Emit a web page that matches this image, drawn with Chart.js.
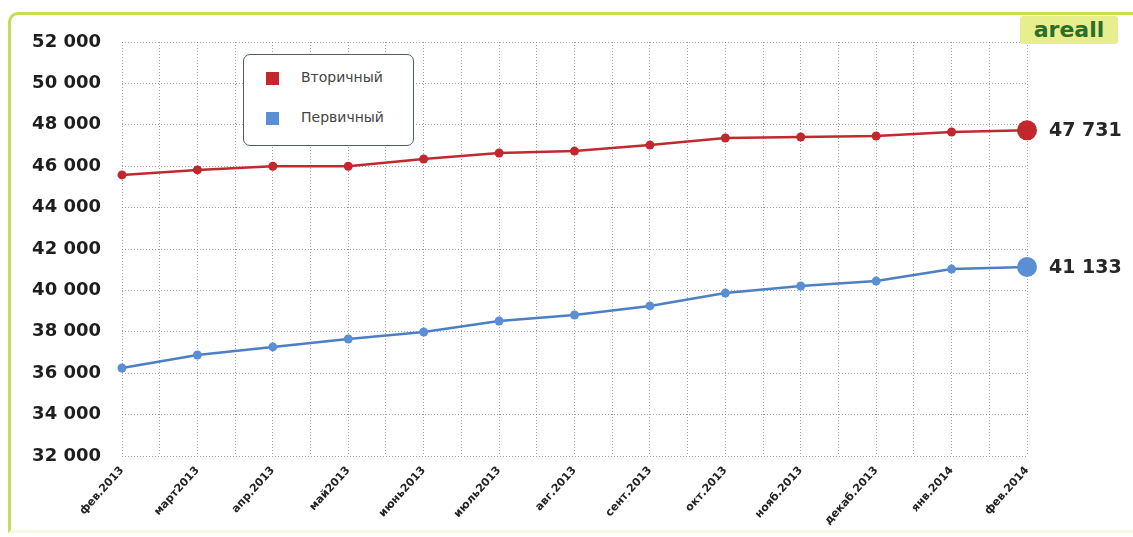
<!DOCTYPE html>
<html>
<head>
<meta charset="utf-8">
<script src="https://cdn.jsdelivr.net/npm/chart.js@4"></script>
<style>
    body { margin: 0; background: #fff; }
    #wrap { position: relative; width: 1133px; height: 537px; overflow: hidden; background: #fff; }
    #frame {
        position: absolute; left: 8px; top: 12px; width: 1130px; height: 521px;
        border-left: 3px solid #c9dc55; border-top: 3px solid #c9dc55;
        border-right: 2px solid #f4f8dc; border-bottom: 3px solid #f6f9e2;
        border-top-left-radius: 10px; box-sizing: border-box;
    }
    #chart { position: absolute; left: 0; top: 0; }
    #badge {
        position: absolute; left: 1020px; top: 16px; width: 98px; height: 28px;
        background: #e6ee8e; border-radius: 3px;
        font: bold 22px 'DejaVu Sans', sans-serif; color: #2b6e2a;
        text-align: center; line-height: 28px;
    }
    #legend {
        position: absolute; left: 243px; top: 54px; width: 171px; height: 92px;
        box-sizing: border-box; border: 1.5px solid #4f5e5d; border-radius: 7px; background: #fff;
    }
    .item { position: absolute; left: 22px; height: 14px; font: 14px 'DejaVu Sans', sans-serif; color: #444; }
    .item span.sw { position: absolute; left: 0; top: 0; width: 13px; height: 13px; }
    .item span.tx { position: absolute; left: 35px; top: -3px; white-space: nowrap; }
</style>
</head>
<body>
<div id="wrap">
    <div id="frame"></div>
    <canvas id="chart" width="1133" height="537"></canvas>
    <div id="badge">areall</div>
    <div id="legend"></div>
</div>
<script>
// months on the x axis
const months = ['фев.2013', 'март2013', 'апр.2013', 'май2013', 'июнь2013', 'июль2013', 'авг.2013',
    'сент.2013', 'окт.2013', 'нояб.2013', 'декаб.2013', 'янв.2014', 'фев.2014'];

// price per m2, secondary and primary market
const secondary = [45580, 45820, 46000, 46000, 46350, 46640, 46730, 47020, 47360, 47410, 47460, 47650, 47731];
const primary = [36250, 36880, 37270, 37650, 37990, 38520, 38810, 39250, 39870, 40210, 40450, 41030, 41133];

const seriesNames = ['Вторичный', 'Первичный'];
const seriesColors = ['#c1272d', '#5b8fd5'];
const lineColors = ['#bf2a2f', '#4d7fc4'];

const yTicks = [32000, 52000, 2000]; // min, max, step

function fmt(v) {
    return String(Math.round(v)).replace(/\B(?=(\d{3})+(?!\d))/g, ' ');
}

// value labels next to the last point of each line
const endLabels = {
    id: 'endLabels',
    afterDatasetsDraw(chart) {
        const ctx = chart.ctx;
        ctx.save();
        ctx.font = 'bold 19px "DejaVu Sans"';
        ctx.fillStyle = '#262626';
        ctx.textAlign = 'left';
        ctx.textBaseline = 'middle';
        chart.data.datasets.forEach((ds, i) => {
            const meta = chart.getDatasetMeta(i);
            const pt = meta.data[meta.data.length - 1];
            ctx.fillText(fmt(ds.data[ds.data.length - 1].y), pt.x + 22, pt.y + 1);
        });
        ctx.restore();
    }
};

function makeDataset(values, i) {
    const last = values.length - 1;
    return {
        label: seriesNames[i],
        data: values.map((v, k) => ({ x: k, y: v })),
        borderColor: lineColors[i],
        backgroundColor: seriesColors[i],
        pointBackgroundColor: seriesColors[i],
        pointBorderColor: seriesColors[i],
        borderWidth: 2.5,
        pointRadius: (c) => c.dataIndex === last ? 10 : 4.5,
        pointBorderWidth: 0,
        tension: 0,
        clip: false
    };
}

Chart.defaults.font.family = 'DejaVu Sans';

new Chart(document.getElementById('chart'), {
    type: 'line',
    data: {
        datasets: [makeDataset(secondary, 0), makeDataset(primary, 1)]
    },
    plugins: [endLabels],
    options: {
        responsive: false,
        animation: false,
        layout: { padding: { left: 0, right: 106, top: 42, bottom: 0 } },
        plugins: {
            legend: { display: false },
            tooltip: { enabled: false }
        },
        scales: {
            x: {
                type: 'linear',
                min: 0,
                max: months.length - 1,
                afterFit: (s) => { s.height = 81; },
                afterBuildTicks: (s) => {
                    const t = [];
                    for (let v = 0; v <= months.length - 1; v += 0.5) t.push({ value: v });
                    s.ticks = t;
                },
                grid: { color: 'rgba(120,120,120,0.7)', lineWidth: 1, drawTicks: false },
                border: { display: false, dash: [1, 2] },
                ticks: {
                    autoSkip: false,
                    maxRotation: 48,
                    minRotation: 48,
                    padding: 8,
                    color: '#222',
                    font: { size: 11, weight: 'bold' },
                    callback: (v) => Number.isInteger(v) ? months[v] : ''
                }
            },
            y: {
                min: yTicks[0],
                max: yTicks[1],
                afterFit: (s) => { s.width = 122; },
                grid: { color: 'rgba(120,120,120,0.7)', lineWidth: 1, drawTicks: false },
                border: { display: false, dash: [1, 2] },
                ticks: {
                    stepSize: yTicks[2],
                    padding: 21,
                    color: '#1e1e1e',
                    font: { size: 18, weight: 'bold' },
                    callback: (v) => fmt(v)
                }
            }
        }
    }
});

// legend box
const legend = document.getElementById('legend');
seriesNames.forEach((name, i) => {
    const el = document.createElement('div');
    el.className = 'item';
    el.style.top = (17 + i * 40) + 'px';
    el.innerHTML = '<span class="sw" style="background:' + seriesColors[i] + '"></span><span class="tx">' + name + '</span>';
    legend.appendChild(el);
});
</script>
</body>
</html>
